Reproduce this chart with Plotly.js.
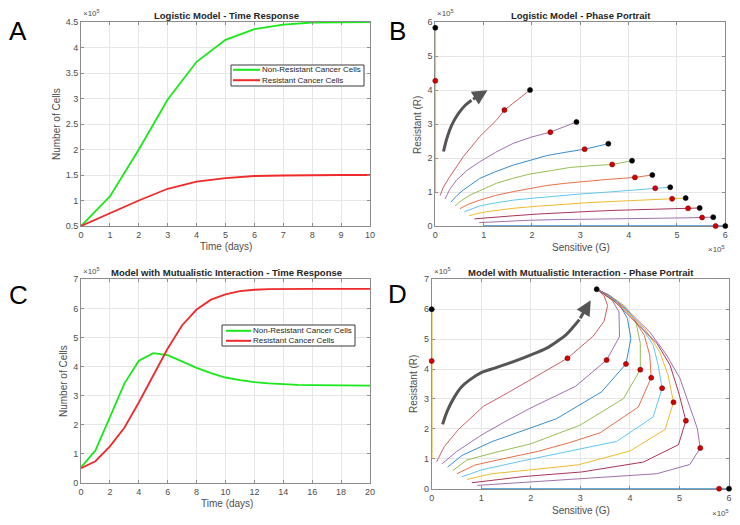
<!DOCTYPE html>
<html><head><meta charset="utf-8">
<script src="https://cdn.plot.ly/plotly-3.0.1.min.js"></script>
<style>html,body{margin:0;padding:0;background:#fff;} #chart{width:740px;height:525px;}</style>
</head><body><div id="chart"></div>
<script>
// ---------- DATA (cell counts in units of 1e5) ----------
// Panel A: logistic model, time response
const daysA = [0,1,2,3,4,5,6,7,8,9,10];
const logisticG = [0.5,1.08,2.0,2.98,3.72,4.15,4.36,4.45,4.49,4.5,4.5];
const logisticR = [0.5,0.75,1.0,1.23,1.37,1.44,1.48,1.49,1.5,1.5,1.5];

// Panel C: mutualistic model, time response
const daysC = [0,1,2,3,4,5,6,7,8,9,10,11,12,13,14,15,16,17,18,19,20];
const mutualG = [0.53,1.11,2.26,3.41,4.20,4.46,4.39,4.18,3.95,3.77,3.62,3.53,3.46,3.42,3.39,3.37,3.36,3.35,3.35,3.34,3.34];
const mutualR = [0.50,0.74,1.25,1.89,2.76,3.70,4.62,5.42,5.96,6.30,6.48,6.59,6.64,6.66,6.67,6.67,6.67,6.67,6.67,6.67,6.67];

const seriesNames = ["Non-Resistant Cancer Cells","Resistant Cancer Cells"];
const seriesColors = ['#1ae81a','#ee2a2a'];

// Panel B: logistic phase portrait trajectories (G = sensitive, R = resistant)
const phaseB_G = [
  [0,0,0],
  [0.10,0.17,0.30,0.45,0.58,0.92,1.27,1.43,1.70,1.96],
  [0.20,0.30,0.44,0.65,0.92,1.25,1.61,2.00,2.38,2.65,2.92],
  [0.32,0.45,0.58,0.92,1.25,1.61,1.96,2.30,2.70,3.09,3.58],
  [0.41,0.55,0.72,1.00,1.27,1.60,1.96,2.40,2.78,3.20,3.66,4.07],
  [0.51,0.70,0.92,1.25,1.61,1.96,2.30,2.65,2.99,3.56,4.13,4.49],
  [0.60,0.75,0.92,1.25,1.61,1.96,2.30,2.65,2.99,3.50,4.00,4.55,4.86],
  [0.70,0.85,1.06,1.30,1.61,2.10,2.64,3.20,3.80,4.35,4.90,5.18],
  [0.81,1.10,1.61,2.10,2.64,3.20,3.70,4.20,4.70,5.23,5.47],
  [0.91,1.30,1.96,2.60,3.30,4.00,4.70,5.20,5.52,5.75],
  [1.0,5.8,6.0]
];
const phaseB_R = [
  [1.0,4.27,5.83],
  [0.90,1.15,1.45,1.77,2.04,2.63,3.12,3.41,3.72,4.00],
  [0.79,1.08,1.35,1.63,1.89,2.17,2.43,2.62,2.76,2.92,3.06],
  [0.70,0.90,1.06,1.40,1.60,1.79,1.93,2.07,2.17,2.26,2.42],
  [0.59,0.76,0.91,1.10,1.26,1.40,1.53,1.63,1.72,1.77,1.81,1.92],
  [0.51,0.65,0.76,0.90,1.01,1.11,1.19,1.25,1.30,1.37,1.43,1.50],
  [0.42,0.51,0.59,0.68,0.76,0.81,0.86,0.90,0.94,0.99,1.05,1.11,1.14],
  [0.30,0.36,0.42,0.47,0.52,0.58,0.64,0.69,0.73,0.77,0.80,0.82],
  [0.21,0.25,0.30,0.35,0.40,0.43,0.46,0.48,0.50,0.52,0.53],
  [0.10,0.13,0.17,0.19,0.21,0.22,0.23,0.24,0.25,0.26],
  [0,0,0]
];
const redB_G = [0,1.43,2.38,3.09,3.66,4.13,4.55,4.90,5.23,5.52,5.80];
const redB_R = [4.27,3.41,2.76,2.26,1.81,1.43,1.11,0.80,0.52,0.25,0];
const endB_G = [0,1.96,2.92,3.58,4.07,4.49,4.86,5.18,5.47,5.75,6.0];
const endB_R = [5.83,4.00,3.06,2.42,1.92,1.50,1.14,0.82,0.53,0.26,0];
const arrowB_G = [0.17,0.24,0.34,0.48,0.62,0.75];
const arrowB_R = [2.19,2.58,2.97,3.31,3.55,3.70];
const arrowB_tip = [1.08,3.99];

// Panel D: mutualistic phase portrait trajectories
const phaseD_G = [
  [0,0,0],
  [0.10,0.25,0.54,1.04,1.55,2.05,2.74,3.26,3.48,3.55,3.48,3.33],
  [0.21,0.50,1.01,1.50,2.00,2.50,2.90,3.53,3.79,3.78,3.60,3.33],
  [0.32,0.61,1.21,1.90,2.52,3.43,3.92,4.02,3.95,3.78,3.55,3.33],
  [0.42,0.71,1.30,2.00,2.99,3.87,4.21,4.21,4.12,3.90,3.60,3.33],
  [0.51,0.87,1.50,2.15,2.80,3.40,4.17,4.43,4.40,4.29,4.05,3.70,3.33],
  [0.61,1.01,1.80,2.69,3.73,4.47,4.65,4.57,4.47,4.20,3.80,3.33],
  [0.71,1.21,2.00,2.96,4.00,4.71,4.88,4.77,4.60,4.30,3.85,3.33],
  [0.81,1.88,3.03,4.27,4.98,5.13,4.98,4.81,4.55,4.10,3.70,3.33],
  [0.92,2.56,3.60,4.54,5.21,5.42,5.36,5.22,5.01,4.74,4.40,3.92,3.58,3.33],
  [1.0,5.8,6.0]
];
const phaseD_R = [
  [1.0,4.27,6.0],
  [0.90,1.40,1.98,2.75,3.22,3.70,4.36,5.10,5.60,6.12,6.45,6.67],
  [0.83,1.24,1.80,2.26,2.70,3.10,3.42,4.30,5.08,5.91,6.42,6.67],
  [0.72,1.11,1.57,1.98,2.34,3.24,4.17,5.02,5.69,6.19,6.50,6.67],
  [0.60,0.96,1.22,1.50,2.12,3.01,3.98,4.86,5.58,6.10,6.45,6.67],
  [0.50,0.79,1.02,1.25,1.55,1.87,2.73,3.71,4.47,5.13,5.75,6.30,6.67],
  [0.40,0.63,0.92,1.23,1.58,2.40,3.36,4.13,4.80,5.50,6.18,6.67],
  [0.31,0.50,0.63,0.80,1.26,1.98,2.89,3.80,4.58,5.35,6.05,6.67],
  [0.20,0.41,0.56,0.89,1.47,2.27,3.24,4.13,4.85,5.60,6.25,6.67],
  [0.11,0.28,0.38,0.50,0.81,1.36,2.02,2.69,3.69,4.47,5.24,6.02,6.47,6.67],
  [0,0,0]
];
const redD_G = [0,2.74,3.53,3.92,4.21,4.43,4.65,4.88,5.13,5.42,5.80];
const redD_R = [4.27,4.36,4.30,4.17,3.98,3.71,3.36,2.89,2.27,1.36,0];
const endD_G = [0,3.33,6.0];
const endD_R = [6.0,6.67,0];
const arrowD_G = [0.22,0.32,0.46,0.60,0.76,1.00,1.30,1.65,1.98,2.30,2.52,2.72,2.86,2.98];
const arrowD_R = [2.15,2.62,3.07,3.40,3.63,3.88,4.05,4.25,4.46,4.68,4.91,5.16,5.41,5.65];
const arrowD_tip = [3.21,6.30];

// trajectory colours (vertical line first, then top to bottom)
const trajColors = ['#EDB120','#c8606a','#a070b0','#3a8ccc','#96bf55','#e5704a','#62c6ef','#eebb30','#a8355a','#a070b0','#3a8fd0'];

// ---------- STYLE HELPERS ----------
const W = 740, H = 525;
const px = v => v / W;
const py = v => 1 - v / H;
const FONT = 'Liberation Sans, Arial, sans-serif';
const TXT = '#4d4d4d';

function axis(extra) {
  return Object.assign({
    showline: true, mirror: 'ticks', linecolor: '#8c8c8c', linewidth: 1,
    ticks: 'inside', ticklen: 3, tickcolor: '#8c8c8c',
    showgrid: true, gridcolor: '#e6e6e6', gridwidth: 1, zeroline: false,
    tickfont: {family: FONT, size: 9, color: TXT}, fixedrange: true
  }, extra);
}

const traces = [];
// Panel A
traces.push({x: daysA, y: logisticG, xaxis: 'x', yaxis: 'y', mode: 'lines', name: seriesNames[0],
  line: {color: seriesColors[0], width: 1.8}, showlegend: false, hoverinfo: 'skip'});
traces.push({x: daysA, y: logisticR, xaxis: 'x', yaxis: 'y', mode: 'lines', name: seriesNames[1],
  line: {color: seriesColors[1], width: 1.8}, showlegend: false, hoverinfo: 'skip'});
// Panel C
traces.push({x: daysC, y: mutualG, xaxis: 'x3', yaxis: 'y3', mode: 'lines', name: seriesNames[0],
  line: {color: seriesColors[0], width: 1.8}, showlegend: false, hoverinfo: 'skip'});
traces.push({x: daysC, y: mutualR, xaxis: 'x3', yaxis: 'y3', mode: 'lines', name: seriesNames[1],
  line: {color: seriesColors[1], width: 1.8}, showlegend: false, hoverinfo: 'skip'});

function phase(Gs, Rs, xa, ya) {
  Gs.forEach((g, i) => {
    const edge = (i === 0 || i === Gs.length - 1);
    traces.push({x: g, y: Rs[i], xaxis: xa, yaxis: ya, mode: 'lines', showlegend: false,
      line: {color: trajColors[i], width: edge ? 1.6 : 1}, hoverinfo: 'skip'});
  });
}
function dots(G, R, xa, ya, col, edge) {
  traces.push({x: G, y: R, xaxis: xa, yaxis: ya, mode: 'markers', showlegend: false, cliponaxis: false,
    marker: {color: col, size: 5, line: {color: edge, width: 0.6}}, hoverinfo: 'skip'});
}
function arrowShaft(G, R, xa, ya) {
  traces.push({x: G, y: R, xaxis: xa, yaxis: ya, mode: 'lines', showlegend: false,
    line: {color: '#555555', width: 3, shape: 'spline'}, hoverinfo: 'skip'});
}
phase(phaseB_G, phaseB_R, 'x2', 'y2');
dots(redB_G, redB_R, 'x2', 'y2', '#d40000', '#7a0000');
dots(endB_G, endB_R, 'x2', 'y2', '#000000', '#000000');
arrowShaft(arrowB_G, arrowB_R, 'x2', 'y2');
phase(phaseD_G, phaseD_R, 'x4', 'y4');
dots(redD_G, redD_R, 'x4', 'y4', '#d40000', '#7a0000');
dots(endD_G, endD_R, 'x4', 'y4', '#000000', '#000000');
arrowShaft(arrowD_G, arrowD_R, 'x4', 'y4');

function txt(x, y, text, size, opts) {
  return Object.assign({xref: 'paper', yref: 'paper', x: px(x), y: py(y), text: text, showarrow: false,
    xanchor: 'center', yanchor: 'middle', font: {family: FONT, size: size, color: TXT}}, opts || {});
}
const titleFont = {family: FONT, size: 9.5, color: '#262626'};
const letterFont = {family: FONT, size: 26, color: '#000'};
const annotations = [
  // panel letters
  txt(18, 31, 'A', 26, {font: letterFont}),
  txt(398, 31, 'B', 26, {font: letterFont}),
  txt(18, 295, 'C', 26, {font: letterFont}),
  txt(398, 294, 'D', 26, {font: letterFont}),
  // titles
  txt(226, 15, '<b>Logistic Model - Time Response</b>', 9.5, {font: titleFont}),
  txt(581, 15, '<b>Logistic Model - Phase Portrait</b>', 9.5, {font: titleFont}),
  txt(227, 272, '<b>Model with Mutualistic Interaction - Time Response</b>', 9.5, {font: titleFont}),
  txt(581, 272, '<b>Model with Mutualistic Interaction - Phase Portrait</b>', 9.5, {font: titleFont}),
  // axis titles
  txt(226, 246, 'Time (days)', 10),
  txt(57, 124, 'Number of Cells', 10, {textangle: -90}),
  txt(581, 247, 'Sensitive (G)', 10),
  txt(417, 125, 'Resistant (R)', 10, {textangle: -90}),
  txt(227, 503, 'Time (days)', 10),
  txt(63, 381, 'Number of Cells', 10, {textangle: -90}),
  txt(581, 510, 'Sensitive (G)', 10),
  txt(413, 384, 'Resistant (R)', 10, {textangle: -90}),
  // exponent labels
  txt(81, 20, '×10<sup>5</sup>', 8, {xanchor: 'left', yanchor: 'bottom'}),
  txt(435, 20, '×10<sup>5</sup>', 8, {xanchor: 'left', yanchor: 'bottom'}),
  txt(727, 242, '×10<sup>5</sup>', 8, {xanchor: 'right', yanchor: 'top'}),
  txt(81, 278, '×10<sup>5</sup>', 8, {xanchor: 'left', yanchor: 'bottom'}),
  txt(432, 278, '×10<sup>5</sup>', 8, {xanchor: 'left', yanchor: 'bottom'}),
  txt(731, 506, '×10<sup>5</sup>', 8, {xanchor: 'right', yanchor: 'top'}),
  // arrow heads
  {xref: 'x2', yref: 'y2', axref: 'x2', ayref: 'y2', x: arrowB_tip[0], y: arrowB_tip[1],
   ax: arrowB_G[arrowB_G.length - 1], ay: arrowB_R[arrowB_R.length - 1], text: '', showarrow: true,
   arrowhead: 2, arrowsize: 1, arrowwidth: 3, arrowcolor: '#555555'},
  {xref: 'x4', yref: 'y4', axref: 'x4', ayref: 'y4', x: arrowD_tip[0], y: arrowD_tip[1],
   ax: arrowD_G[arrowD_G.length - 1], ay: arrowD_R[arrowD_R.length - 1], text: '', showarrow: true,
   arrowhead: 2, arrowsize: 1, arrowwidth: 3, arrowcolor: '#555555'}
];

// compact MATLAB-style legends (box, line samples, labels)
const shapes = [];
function legendBox(x0, y0, x1, y1, lineX0, lineX1, textX, rowYs) {
  shapes.push({type: 'rect', xref: 'paper', yref: 'paper', x0: px(x0), x1: px(x1), y0: py(y1), y1: py(y0),
    line: {color: '#3a3a3a', width: 1}, fillcolor: '#ffffff', layer: 'above'});
  rowYs.forEach((ry, i) => {
    shapes.push({type: 'line', xref: 'paper', yref: 'paper', x0: px(lineX0), x1: px(lineX1), y0: py(ry), y1: py(ry),
      line: {color: seriesColors[i], width: 2}, layer: 'above'});
    annotations.push(txt(textX, ry, seriesNames[i], 8, {xanchor: 'left', font: {family: FONT, size: 8, color: '#262626'}}));
  });
}
legendBox(231, 65, 364, 86, 233, 260, 260, [69.8, 80.2]);
legendBox(222, 325, 355, 346, 226, 251, 251, [330.8, 340.8]);

const layout = {
  width: W, height: H, margin: {l: 0, r: 0, t: 0, b: 0},
  paper_bgcolor: '#ffffff', plot_bgcolor: '#ffffff', showlegend: false,
  xaxis: axis({domain: [px(81), px(370)], range: [0, 10], dtick: 1, anchor: 'y'}),
  yaxis: axis({domain: [py(226), py(22)], range: [0.5, 4.5], dtick: 0.5, anchor: 'x'}),
  xaxis2: axis({domain: [px(435.3), px(725.3)], range: [0, 6], dtick: 1, anchor: 'y2', layer: 'below traces'}),
  yaxis2: axis({domain: [py(226), py(22)], range: [0, 6], dtick: 1, anchor: 'x2', layer: 'below traces'}),
  xaxis3: axis({domain: [px(81), px(370)], range: [0, 20], dtick: 2, anchor: 'y3'}),
  yaxis3: axis({domain: [py(482.7), py(279.3)], range: [0, 7], dtick: 1, anchor: 'x3'}),
  xaxis4: axis({domain: [px(431.7), px(729)], range: [0, 6], dtick: 1, anchor: 'y4', layer: 'below traces'}),
  yaxis4: axis({domain: [py(488.7), py(279.3)], range: [0, 7], dtick: 1, anchor: 'x4', layer: 'below traces'}),
  shapes: shapes,
  annotations: annotations
};

Plotly.newPlot('chart', traces, layout, {displayModeBar: false, staticPlot: true});
</script></body></html>
